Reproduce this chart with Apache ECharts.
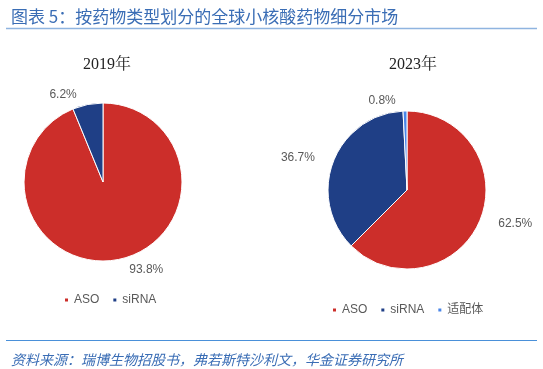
<!DOCTYPE html>
<html><head><meta charset="utf-8">
<script src="https://cdn.jsdelivr.net/npm/echarts@6/dist/echarts.min.js"></script>
<style>html,body{margin:0;padding:0;background:#fff}#c{width:543px;height:369px}</style>
</head><body><div id="c"></div>
<script>
const categories2019 = ['ASO', 'siRNA'];
const values2019 = [93.8, 6.2];
const categories2023 = ['ASO', 'siRNA', '适配体'];
const values2023 = [62.5, 36.7, 0.8];
const colors = ['#cc2e2a', '#1f3f86', '#4a86e8'];

const chart = echarts.init(document.getElementById('c'));
function mk(cats, vals) { return cats.map((n, i) => ({ name: n, value: vals[i] })); }
const pieBase = {
  type: 'pie', startAngle: 90, clockwise: true, radius: 79,
  itemStyle: { borderColor: '#fff', borderWidth: 1 },
  label: { show: true, position: 'outside', formatter: p => p.value.toFixed(1) + '%', color: '#595959', fontSize: 12, fontFamily: 'Liberation Sans, Arial, sans-serif' },
  labelLine: { show: false, length: 10, length2: 4 },
  emphasis: { disabled: true }, animation: false
};
chart.setOption({
  color: colors,
  animation: false,
  title: [
    { text: '图表 5：按药物类型划分的全球小核酸药物细分市场', left: 6, top: 3, textStyle: { color: '#3a6db5', fontSize: 17, fontWeight: 'normal', fontFamily: 'Noto Sans CJK SC, sans-serif' } },
    { text: '2019年', left: 102, top: 52, textAlign: 'center', textStyle: { color: '#222', fontSize: 16, fontWeight: 'normal', fontFamily: 'Liberation Serif, Noto Serif CJK SC, serif' } },
    { text: '2023年', left: 408, top: 52, textAlign: 'center', textStyle: { color: '#222', fontSize: 16, fontWeight: 'normal', fontFamily: 'Liberation Serif, Noto Serif CJK SC, serif' } },
    { text: '资料来源：瑞博生物招股书，弗若斯特沙利文，华金证券研究所', left: 6, top: 348, textStyle: { color: '#3a6db5', fontSize: 14, fontStyle: 'italic', fontWeight: 'normal', fontFamily: 'Noto Sans CJK SC, sans-serif' } }
  ],
  legend: [
    { data: categories2019, left: 58, top: 289, itemWidth: 5, itemHeight: 5, itemGap: 12, icon: 'rect', textStyle: { color: '#595959', fontSize: 12, fontFamily: 'Liberation Sans, Arial, sans-serif' } },
    { data: categories2023, left: 326, top: 299, itemWidth: 5, itemHeight: 5, itemGap: 12, icon: 'rect', textStyle: { color: '#595959', fontSize: 12, fontFamily: 'Liberation Sans, Noto Sans CJK SC, sans-serif' } }
  ],
  graphic: [
    { type: 'line', shape: { x1: 6, y1: 28.5, x2: 537, y2: 28.5 }, style: { stroke: '#8fb4e0', lineWidth: 1.5 } },
    { type: 'line', shape: { x1: 6, y1: 340.5, x2: 537, y2: 340.5 }, style: { stroke: '#4a90d9', lineWidth: 1.2 } }
  ],
  series: [
    Object.assign({}, pieBase, { center: [103, 182], data: mk(categories2019, values2019) }),
    Object.assign({}, pieBase, { center: [407, 190], data: mk(categories2023, values2023) })
  ]
});
</script></body></html>
